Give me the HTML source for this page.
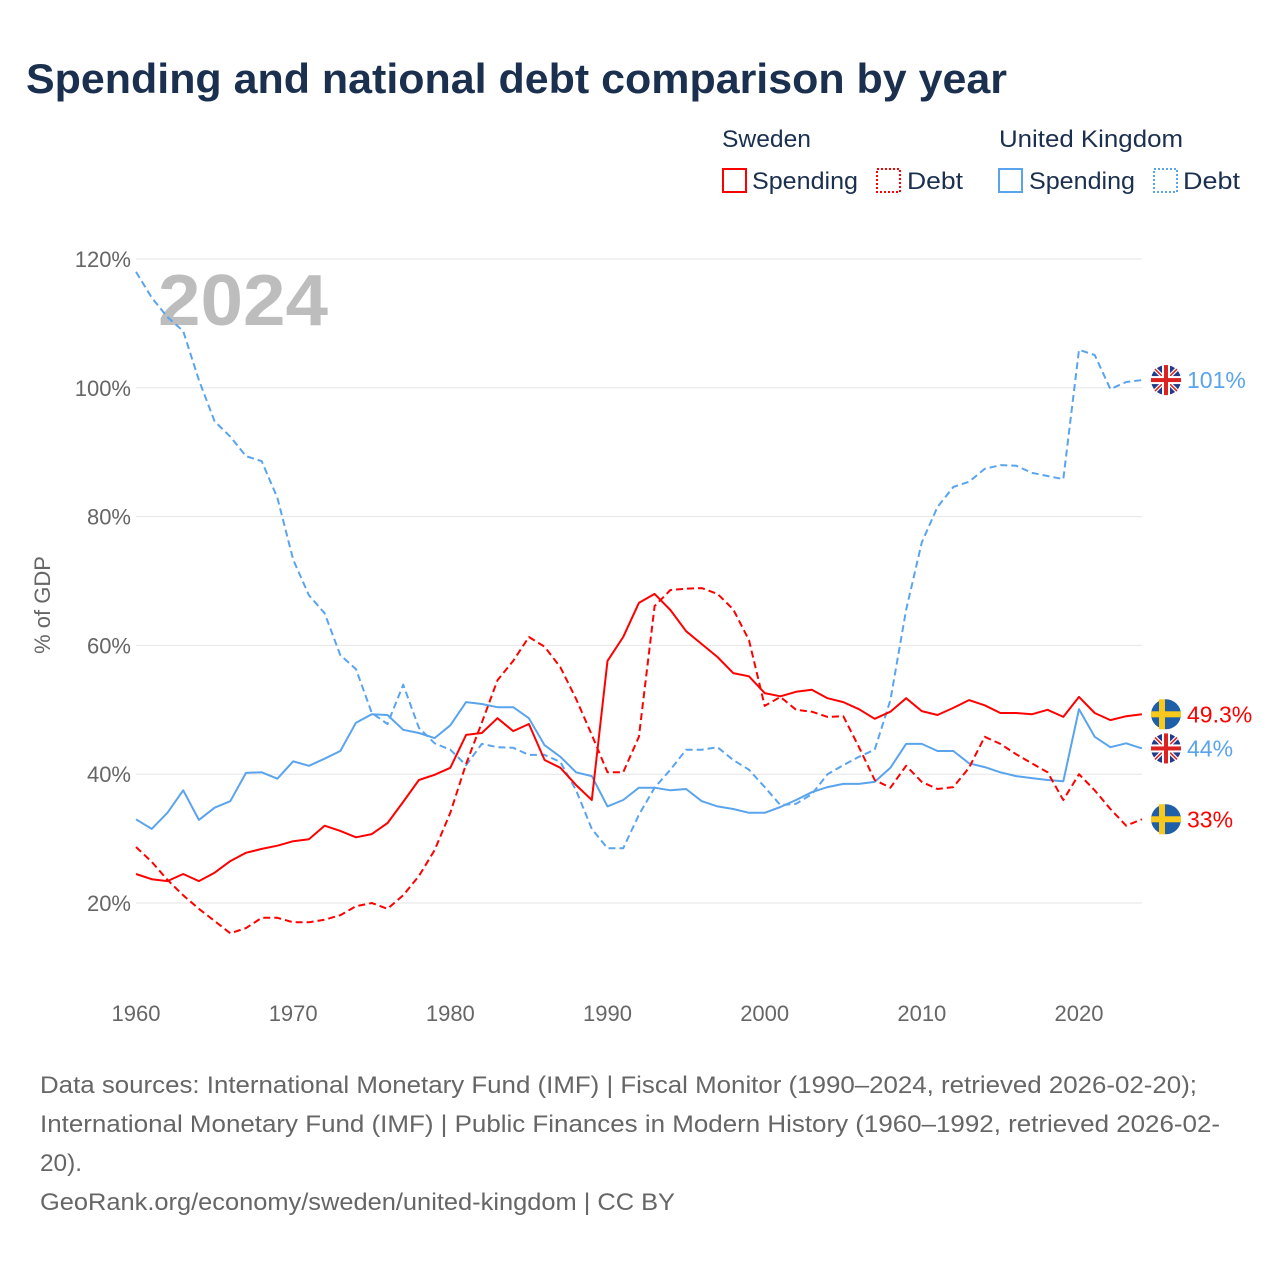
<!DOCTYPE html>
<html><head><meta charset="utf-8">
<style>
body{margin:0;background:#fff;width:1280px;height:1280px;overflow:hidden;font-family:"Liberation Sans",sans-serif}
svg{display:block}
</style></head>
<body>
<svg id="chart" width="1280" height="1280">
<text x="26" y="93" font-size="42" font-weight="bold" fill="#1b2f4f" textLength="981" lengthAdjust="spacingAndGlyphs">Spending and national debt comparison by year</text>
<g font-size="24" fill="#1b2f4f">
<text x="722" y="147" textLength="89" lengthAdjust="spacingAndGlyphs">Sweden</text>
<text x="999" y="147" textLength="184" lengthAdjust="spacingAndGlyphs">United Kingdom</text>
<g><rect x="723" y="169" width="23" height="23" fill="none" stroke="#f00" stroke-width="2"/><text x="752" y="189" textLength="106" lengthAdjust="spacingAndGlyphs">Spending</text></g>
<g><rect x="877" y="169" width="23" height="23" fill="none" stroke="#f00" stroke-width="2" stroke-dasharray="2,2"/><text x="907" y="189" textLength="56" lengthAdjust="spacingAndGlyphs">Debt</text></g>
<g><rect x="999" y="169" width="23" height="23" fill="none" stroke="#5aa4ee" stroke-width="2"/><text x="1029" y="189" textLength="106" lengthAdjust="spacingAndGlyphs">Spending</text></g>
<g><rect x="1154" y="169" width="23" height="23" fill="none" stroke="#5aa4ee" stroke-width="2" stroke-dasharray="2,2"/><text x="1183" y="189" textLength="57" lengthAdjust="spacingAndGlyphs">Debt</text></g>
</g>
<text x="158" y="325" font-size="72" font-weight="bold" fill="#bdbdbd" textLength="170" lengthAdjust="spacingAndGlyphs">2024</text>
<text transform="translate(50,605) rotate(-90)" text-anchor="middle" font-size="22" fill="#666">% of GDP</text>
<g id="grid"></g><g id="series"></g><g id="endlabels"></g>
<g font-size="24" fill="#666">
<text x="40" y="1093" textLength="1157" lengthAdjust="spacingAndGlyphs">Data sources: International Monetary Fund (IMF) | Fiscal Monitor (1990–2024, retrieved 2026-02-20);</text>
<text x="40" y="1132" textLength="1180" lengthAdjust="spacingAndGlyphs">International Monetary Fund (IMF) | Public Finances in Modern History (1960–1992, retrieved 2026-02-</text>
<text x="40" y="1171" textLength="42" lengthAdjust="spacingAndGlyphs">20).</text>
<text x="40" y="1210" textLength="635" lengthAdjust="spacingAndGlyphs">GeoRank.org/economy/sweden/united-kingdom | CC BY</text>
</g>
</svg>
<script>
const startYear=1960;
const yTicks=[20,40,60,80,100,120];
const xTicks=[1960,1970,1980,1990,2000,2010,2020];
const seSpending=[24.5,23.7,23.4,24.5,23.4,24.7,26.5,27.8,28.4,28.9,29.6,29.9,32,31.2,30.2,30.7,32.4,35.7,39.1,39.9,41,46.1,46.4,48.7,46.7,47.8,42.2,41,38.3,36,57.6,61.3,66.6,68,65.5,62.2,60.2,58.2,55.7,55.2,52.6,52.1,52.8,53.1,51.8,51.2,50.1,48.6,49.7,51.8,49.8,49.2,50.3,51.5,50.7,49.5,49.5,49.3,50,48.9,52,49.5,48.4,49,49.3];
const seDebt=[28.7,26.4,23.6,21.2,19.1,17.2,15.3,16.1,17.7,17.7,17,17,17.4,18.1,19.5,20,19.1,21.2,24.2,28.2,34,41.6,48,54.6,57.6,61.3,59.8,56.6,51.7,46.1,40.3,40.3,45.8,66.1,68.6,68.8,68.9,68,65.6,60.8,50.6,52,50,49.7,48.9,49,44.2,39.1,37.9,41.3,38.8,37.7,38,41,45.8,44.7,43.1,41.7,40.3,36,40,37.5,34.6,32,33];
const ukSpending=[33,31.5,34,37.5,32.9,34.8,35.8,40.2,40.3,39.3,42,41.3,42.4,43.6,48,49.3,49.2,46.9,46.4,45.6,47.6,51.2,50.9,50.4,50.4,48.7,44.5,42.7,40.3,39.7,35,36,37.9,37.9,37.5,37.7,35.8,35,34.6,34,34,34.9,36,37.2,38,38.5,38.5,38.8,41,44.7,44.7,43.6,43.6,41.7,41.1,40.3,39.7,39.4,39.1,38.9,50.1,45.8,44.2,44.8,44];
const ukDebt=[118,114,111,108.8,101.2,94.8,92.4,89.4,88.6,82.9,73.3,67.8,65,58.5,56.3,49.5,47.8,53.9,47.2,44.8,43.8,41.4,44.7,44.2,44.1,43,43,41.9,37.5,31.5,28.5,28.5,33.7,37.9,40.7,43.8,43.8,44.2,42.2,40.7,38,35.2,35.4,36.9,40,41.4,42.7,43.8,51.5,65.5,76,81.5,84.6,85.4,87.4,88,87.9,86.8,86.3,85.8,105.9,105.1,99.8,100.9,101.2];
const endLabels=["49.3%","44%","33%","101%"];

const NS="http://www.w3.org/2000/svg";
const x=yr=>136+(yr-1960)*(943/60);
const y=v=>903-(v-20)*6.44;
function mk(tag,attrs,parent,text){const e=document.createElementNS(NS,tag);for(const k in attrs)e.setAttribute(k,attrs[k]);if(text!==undefined)e.textContent=text;parent.appendChild(e);return e;}
const grid=document.getElementById('grid');
yTicks.forEach(t=>{
 const l=mk('line',{x1:136,x2:1142,y1:y(t),y2:y(t),stroke:'#e6e6e6','stroke-width':1},grid);
 
 
 const tx=mk('text',{x:131,y:y(t)+8,'text-anchor':'end','font-size':22,fill:'#666'},grid,t+'%');
 
 
});
xTicks.forEach(t=>{
 const tx=mk('text',{x:x(t),y:1021,'text-anchor':'middle','font-size':22,fill:'#666'},grid,t);
 
 
});
const ser=document.getElementById('series');
function line(arr,color,dash,name){
 const d=arr.map((v,i)=>(i?'L':'M')+x(startYear+i).toFixed(1)+','+y(v).toFixed(1)).join('');
 const p=mk('path',{d:d,fill:'none',stroke:color,'stroke-width':2,'stroke-dasharray':dash,'stroke-linejoin':'round'},ser);
 
 
}
const RED='#f00',BLUE='#5aa4ee';
line(ukDebt,BLUE,'7,4','uk-debt-line');
line(ukSpending,BLUE,'none','uk-spending-line');
line(seDebt,RED,'7,4','sweden-debt-line');
line(seSpending,RED,'none','sweden-spending-line');
const el=document.getElementById('endlabels');
function flag(cy,se,name){
 const g=mk('g',{},el);
 
 
 const cx=1166;
 if(se){
  mk('circle',{cx:cx,cy:cy,r:15,fill:'#1f5fa8'},g);
  mk('rect',{x:cx-15,y:cy-3,width:30,height:6,fill:'#f8c81c'},g);
  mk('rect',{x:cx-7,y:cy-15,width:6,height:30,fill:'#f8c81c'},g);
 }else{
  mk('circle',{cx:cx,cy:cy,r:15,fill:'#1f3d8a'},g);
  mk('line',{x1:cx-11,y1:cy-11,x2:cx+11,y2:cy+11,stroke:'#fff','stroke-width':4},g);
  mk('line',{x1:cx-11,y1:cy+11,x2:cx+11,y2:cy-11,stroke:'#fff','stroke-width':4},g);
  mk('line',{x1:cx-11,y1:cy-11,x2:cx+11,y2:cy+11,stroke:'#d22','stroke-width':1.5},g);
  mk('line',{x1:cx-11,y1:cy+11,x2:cx+11,y2:cy-11,stroke:'#d22','stroke-width':1.5},g);
  mk('rect',{x:cx-15,y:cy-4,width:30,height:8,fill:'#fff'},g);
  mk('rect',{x:cx-4,y:cy-15,width:8,height:30,fill:'#fff'},g);
  mk('rect',{x:cx-15,y:cy-2,width:30,height:4,fill:'#d22'},g);
  mk('rect',{x:cx-2,y:cy-15,width:4,height:30,fill:'#d22'},g);
 }
}
const ends=[[seSpending,RED,true,0],[ukSpending,BLUE,false,1],[seDebt,RED,true,2],[ukDebt,BLUE,false,3]];
ends.forEach(([arr,c,se,i])=>{
 const cy=y(arr[arr.length-1]);
 flag(cy,se,'end-flag-'+i);
 const t=mk('text',{x:1187,y:cy+8,'font-size':23,fill:c},el,endLabels[i]);
 
 
});
</script>
</body></html>
